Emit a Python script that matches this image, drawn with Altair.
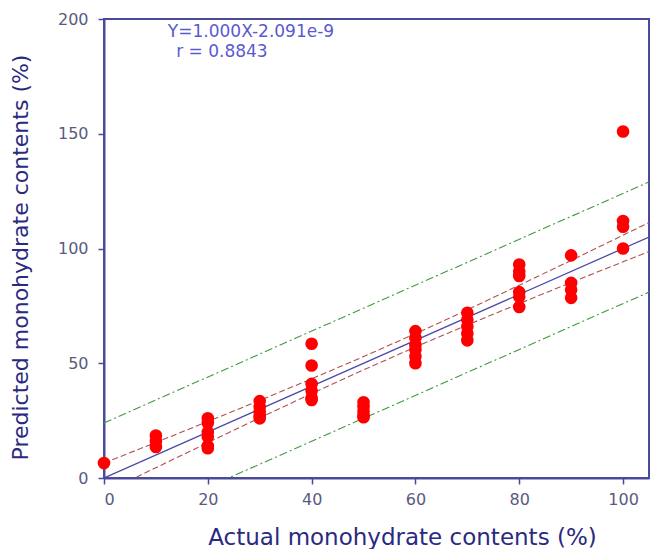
import altair as alt
import pandas as pd

# Observed points (actual %, predicted %)
pt_x = [0,
        10, 10, 10,
        20, 20, 20, 20, 20, 20,
        30, 30, 30, 30, 30,
        40, 40, 40, 40, 40, 40,
        50, 50, 50, 50, 50,
        60, 60, 60, 60, 60, 60,
        70, 70, 70, 70, 70,
        80, 80, 80, 80, 80, 80,
        90, 90, 90, 90,
        100, 100, 100, 100]
pt_y = [6.5,
        18.5, 16, 13.5,
        26, 24, 20, 18, 14, 13,
        33.5, 31, 29, 27, 26,
        58.5, 49, 41, 38, 35, 34,
        33, 31, 29, 27, 26.5,
        64, 61, 58, 56, 53, 50,
        72, 69, 66, 63, 60,
        93, 90, 88, 81, 79, 74.5,
        97, 85, 82, 78.5,
        151, 112, 109.5, 100]

# Regression line
reg_x = [0, 105]
reg_y = [0, 105]

# Confidence band (red dashed)
ci_x = [0, 10, 20, 30, 40, 50, 55, 60, 70, 80, 90, 100, 105]
ci_upper = [6.5, 15.5, 24.6, 33.8, 43.2, 52.9, 57.9, 62.9, 73.3, 84.0, 94.8, 105.8, 111.3]
ci_lower = [-6.5, 4.5, 15.4, 26.2, 36.8, 47.1, 52.1, 57.1, 66.7, 76.0, 85.2, 94.2, 98.7]

# Prediction band (green dash-dot)
pi_x = [0, 105]
pi_upper = [24, 129]
pi_lower = [-24, 81]

eq_text = ["Y=1.000X-2.091e-9", "r = 0.8843"]
eq_x = [12.3, 13.9]
eq_y = [194.2, 185.6]

pts = pd.DataFrame({"x": pt_x, "y": pt_y})
reg = pd.DataFrame({"x": reg_x, "y": reg_y})
ci = pd.DataFrame({"x": ci_x, "up": ci_upper, "lo": ci_lower})
pi = pd.DataFrame({"x": pi_x, "up": pi_upper, "lo": pi_lower})
txt = pd.DataFrame({"t": eq_text, "x": eq_x, "y": eq_y})

FONT = "DejaVu Sans"
AXC = "#4a4a9a"

xscale = alt.Scale(domain=[0, 105], nice=False, zero=False)
yscale = alt.Scale(domain=[0, 200], nice=False)

xaxis = alt.Axis(title="Actual monohydrate contents (%)", values=[0, 20, 40, 60, 80, 100],
                 grid=False, domainColor=AXC, domainWidth=2, tickColor=AXC, tickWidth=1.5,
                 tickSize=6, labelFont=FONT, labelFontSize=16, labelColor="#5a5a80",
                 labelPadding=7, titleFont=FONT, titleFontSize=23, titleColor="#2a2a80",
                 titleFontWeight="normal", titlePadding=19, titleX=298, titleAlign="center")
yaxis = alt.Axis(title="Predicted monohydrate contents (%)", values=[0, 50, 100, 150, 200],
                 grid=False, domainColor=AXC, domainWidth=2, tickColor=AXC, tickWidth=1.5,
                 tickSize=6, labelFont=FONT, labelFontSize=16, labelColor="#5a5a80",
                 labelPadding=10, titleFont=FONT, titleFontSize=22, titleColor="#2a2a80",
                 titleFontWeight="normal", titlePadding=25, titleY=238, titleAlign="center")

base_pts = alt.Chart(pts).mark_circle(size=160, color="#ff0000", opacity=1).encode(
    x=alt.X("x:Q", scale=xscale, axis=xaxis),
    y=alt.Y("y:Q", scale=yscale, axis=yaxis),
)

reg_line = alt.Chart(reg).mark_line(color="#4a4aa8", strokeWidth=1.3, clip=True).encode(
    x=alt.X("x:Q", scale=xscale), y=alt.Y("y:Q", scale=yscale))

ci_up = alt.Chart(ci).mark_line(color="#b05050", strokeWidth=1.1, strokeDash=[6, 3], clip=True).encode(
    x=alt.X("x:Q", scale=xscale), y=alt.Y("up:Q", scale=yscale))
ci_lo = alt.Chart(ci).mark_line(color="#b05050", strokeWidth=1.1, strokeDash=[6, 3], clip=True).encode(
    x=alt.X("x:Q", scale=xscale), y=alt.Y("lo:Q", scale=yscale))

pi_up = alt.Chart(pi).mark_line(color="#3f9a3f", strokeWidth=1.1, strokeDash=[8, 3, 2, 3], clip=True).encode(
    x=alt.X("x:Q", scale=xscale), y=alt.Y("up:Q", scale=yscale))
pi_lo = alt.Chart(pi).mark_line(color="#3f9a3f", strokeWidth=1.1, strokeDash=[8, 3, 2, 3], clip=True).encode(
    x=alt.X("x:Q", scale=xscale), y=alt.Y("lo:Q", scale=yscale))

label = alt.Chart(txt).mark_text(align="left", baseline="middle", font=FONT, fontSize=17,
                                 color="#5a5ad0").encode(
    x=alt.X("x:Q", scale=xscale), y=alt.Y("y:Q", scale=yscale), text="t:N")

chart = alt.layer(pi_up, pi_lo, ci_up, ci_lo, reg_line, base_pts, label).properties(
    width=545, height=459,
    autosize=alt.AutoSizeParams(type="none"),
    padding={"left": 104, "top": 19, "right": 3, "bottom": 71},
    background="white",
).configure_view(stroke=AXC, strokeWidth=2)

chart.save("out.html", embed_options={"renderer": "svg", "actions": False})
